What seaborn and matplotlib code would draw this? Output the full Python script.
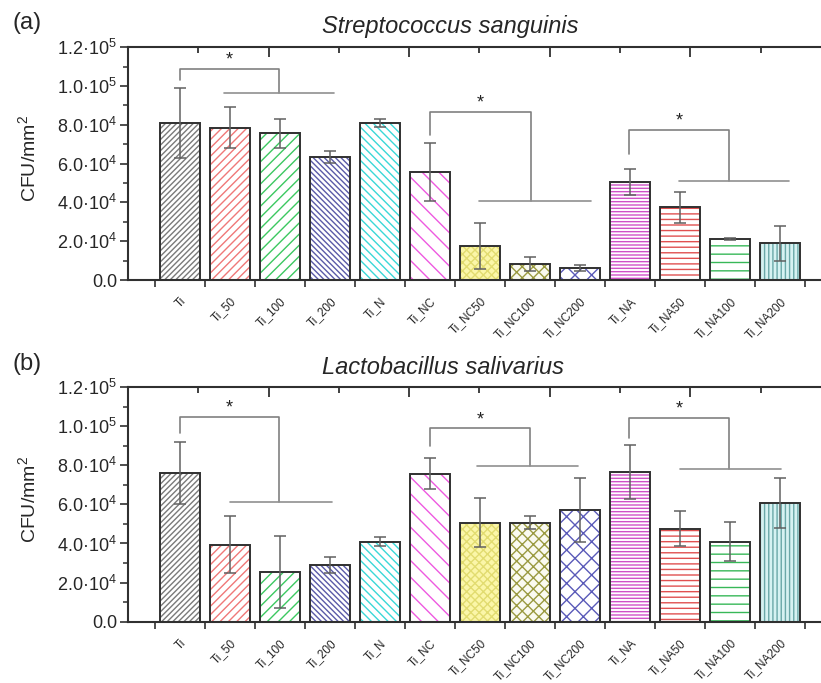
import numpy as np
import matplotlib.pyplot as plt
from matplotlib.patches import Rectangle
from matplotlib.ticker import FixedLocator, MultipleLocator
import seaborn as sns

# Bar groups (same for both panels)
labels = ['Ti', 'Ti_50', 'Ti_100', 'Ti_200', 'Ti_N', 'Ti_NC', 'Ti_NC50', 'Ti_NC100',
          'Ti_NC200', 'Ti_NA', 'Ti_NA50', 'Ti_NA100', 'Ti_NA200']

# (a) Streptococcus sanguinis, CFU/mm2
sang_mean = [8.1e4, 7.85e4, 7.55e4, 6.33e4, 8.08e4, 5.57e4, 1.76e4, 0.83e4,
             0.6e4, 5.04e4, 3.75e4, 2.1e4, 1.9e4]
sang_err = [1.8e4, 1.05e4, 0.75e4, 0.3e4, 0.22e4, 1.5e4, 1.2e4, 0.35e4,
            0.15e4, 0.66e4, 0.8e4, 0.06e4, 0.9e4]

# (b) Lactobacillus salivarius, CFU/mm2
sali_mean = [7.6e4, 3.93e4, 2.56e4, 2.9e4, 4.1e4, 7.56e4, 5.07e4, 5.07e4,
             5.72e4, 7.67e4, 4.76e4, 4.1e4, 6.06e4]
sali_err = [1.59e4, 1.45e4, 1.84e4, 0.43e4, 0.25e4, 0.79e4, 1.25e4, 0.34e4,
            1.62e4, 1.38e4, 0.89e4, 1.0e4, 1.28e4]

# significance brackets: left x, left y, top y, right x, drop y, line x0, line x1
sang_brackets = [(0, 10.3e4, 10.88e4, 1.98, 9.64e4, 0.88, 3.08),
                 (5, 7.47e4, 8.66e4, 7.02, 4.07e4, 5.98, 8.22),
                 (8.98, 6.5e4, 7.73e4, 10.98, 5.1e4, 9.98, 12.18)]
sali_brackets = [(0, 9.64e4, 10.47e4, 1.98, 6.11e4, 1.0, 3.04),
                 (5, 8.96e4, 9.88e4, 7.0, 7.94e4, 5.93, 7.96),
                 (8.98, 9.39e4, 10.41e4, 10.98, 7.8e4, 10.0, 12.02)]

ytick_vals = [0, 2e4, 4e4, 6e4, 8e4, 1e5, 1.2e5]
ytick_labels = ['0.0', '2.0·10$^4$', '4.0·10$^4$', '6.0·10$^4$', '8.0·10$^4$',
                '1.0·10$^5$', '1.2·10$^5$']

# bar styles
fills = ['white', 'white', 'white', 'white', 'white', 'white', '#fbf6a8', '#fafaf0',
         'white', 'white', 'white', 'white', '#d6f2f2']
hatch_cols = ['#7a7a7a', '#f07878', '#3cc860', '#5a5aa8', '#3ad8d8', '#ee5ae0', '#e2dc70',
              '#9a9a40', '#5a5ab8', '#d050c8', '#e05050', '#38b858', '#6aa8a8']
hatches = ['//////', '////', '///', '\\' * 6, '\\' * 4, '\\' * 2, 'xxxx', 'xxx',
           'xx', '-----', '---', '--', '||||']

sns.set_theme(style='white')
plt.rcParams['font.family'] = ['Liberation Sans', 'DejaVu Sans']
plt.rcParams['mathtext.fontset'] = 'custom'
plt.rcParams['mathtext.rm'] = 'Liberation Sans'
plt.rcParams['mathtext.it'] = 'Liberation Sans:italic'
plt.rcParams['hatch.linewidth'] = 1.0

fig = plt.figure(figsize=(8.21, 6.83), dpi=100)
ax_a = fig.add_axes([0.156, 0.590, 0.844, 0.341])
ax_b = fig.add_axes([0.156, 0.0897, 0.844, 0.3437])


def draw_panel(ax, means, errs, brackets, title, title_x, pad):
    pos = np.arange(len(labels))
    sns.barplot(x=labels, y=means, hue=labels, palette=dict(zip(labels, fills)),
                legend=False, width=0.8, linewidth=0, saturation=1, ax=ax)
    for p, h, c in zip(ax.patches, hatches, hatch_cols):
        p.set_edgecolor(c)
        p.set_hatch(h)
        p.set_linewidth(0)
    # black outline on top of the hatch
    for p in list(ax.patches):
        ax.add_patch(Rectangle(p.get_xy(), p.get_width(), p.get_height(),
                               fill=False, ec='#303030', lw=1.4, zorder=3))
    ax.errorbar(pos, means, yerr=errs, fmt='none', ecolor='#606060',
                elinewidth=1.1, capsize=4, capthick=1.1, zorder=4)

    for xl, yl, top, xr, drop, x0, x1 in brackets:
        ax.plot([xl, xl, xr, xr], [yl, top, top, drop], color='#808080', lw=1.2)
        ax.plot([x0, x1], [drop, drop], color='#909090', lw=1.2)
        ax.text((xl + xr) / 2, top + 0.22e4, '*', ha='center', va='baseline',
                fontsize=13, color='#222222')

    ax.set_xlim(-1.04, 12.82)
    ax.set_ylim(0, 1.2e5)
    ax.yaxis.set_major_locator(FixedLocator(ytick_vals))
    ax.set_yticklabels(ytick_labels)
    ax.yaxis.set_minor_locator(MultipleLocator(1e4))
    ax.xaxis.set_minor_locator(FixedLocator(np.append(pos - 0.5, pos[-1] + 0.5)))
    ax.set_xticks(pos)
    ax.set_xticklabels(labels, rotation=45, ha='right', va='top',
                       rotation_mode='anchor', fontsize=8.5)
    ax.tick_params(axis='x', which='major', length=0, pad=11)
    ax.tick_params(axis='x', which='minor', bottom=True, direction='out',
                   length=5, width=1.2, color='#303030')
    ax.tick_params(axis='y', which='major', left=True, direction='out',
                   length=6, width=1.2, color='#303030', labelsize=13, pad=2)
    ax.tick_params(axis='y', which='minor', left=True, direction='out',
                   length=3.5, width=1.1, color='#303030')
    for s in ['left', 'bottom', 'top']:
        ax.spines[s].set_linewidth(1.5)
        ax.spines[s].set_color('#303030')
    ax.spines['right'].set_visible(False)
    ax.set_xlabel('')
    ax.set_ylabel('CFU/mm$^2$', fontsize=14)
    ax.yaxis.set_label_coords(-0.128, 0.52)
    ax.set_title(title, style='italic', fontsize=17, x=title_x, pad=pad)

    # ticks along the top frame
    top_ax = ax.twiny()
    top_ax.set_xlim(0, 9.86)
    top_ax.xaxis.set_major_locator(MultipleLocator(2))
    top_ax.xaxis.set_minor_locator(MultipleLocator(1))
    top_ax.tick_params(axis='x', which='both', top=True, bottom=False,
                       labeltop=False, labelbottom=False, direction='in',
                       color='#303030', width=1.3)
    top_ax.tick_params(axis='x', which='major', length=7)
    top_ax.tick_params(axis='x', which='minor', length=4)
    for s in top_ax.spines.values():
        s.set_visible(False)


draw_panel(ax_a, sang_mean, sang_err, sang_brackets, 'Streptococcus sanguinis', 0.465, 10)
draw_panel(ax_b, sali_mean, sali_err, sali_brackets, 'Lactobacillus salivarius', 0.455, 9)

fig.text(0.015, 0.957, '(a)', fontsize=17, va='baseline')
fig.text(0.015, 0.458, '(b)', fontsize=17, va='baseline')

fig.savefig('out.png', dpi=100)
